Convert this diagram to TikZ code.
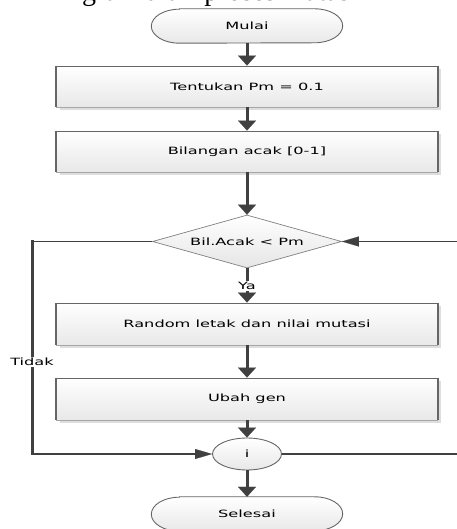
\documentclass[tikz,border=0pt]{standalone}
\usepackage{fontspec}
\newfontfamily\diagfont{DejaVu Sans}[FakeStretch=1.62]
\newfontfamily\capfont{Liberation Serif}
\usetikzlibrary{shapes.geometric, arrows.meta, shadows, backgrounds}

\definecolor{lineclr}{HTML}{404040}
\definecolor{edgeclr}{HTML}{666666}

\tikzset{
  x=1pt, y=1pt,
  txt/.style={font=\diagfont\fontsize{10}{12}\selectfont, text=black},
  procbox/.style={txt, rectangle, minimum width=381pt, minimum height=41pt, inner sep=0pt,
    top color=white, bottom color=black!9, draw=edgeclr, line width=0.9pt,
    drop shadow={opacity=1, fill=black!13, shadow xshift=3pt, shadow yshift=-3pt}},
  termnode/.style={txt, rectangle, minimum width=191pt, minimum height=34pt, inner sep=0pt},
  termshape/.style={top color=white, bottom color=black!9, draw=edgeclr, line width=0.9pt},
  decision/.style={txt, diamond, aspect=3.566, minimum width=189pt, minimum height=53pt, inner sep=0pt,
    top color=white, bottom color=black!10, draw=black!50, line width=0.7pt},
  joint/.style={txt, ellipse, minimum width=69pt, minimum height=32pt, inner sep=0pt,
    top color=white, bottom color=black!9, draw=edgeclr, line width=0.9pt},
  vflow/.style={draw=lineclr, line width=3pt, -{Triangle[width=18pt,length=10pt,line width=0.1pt]}},
  vline/.style={draw=lineclr, line width=3pt, line cap=rect},
  hline/.style={draw=lineclr, line width=1.2pt},
  hflow/.style={draw=lineclr, line width=1.2pt, -{Triangle[width=10pt,length=17pt,line width=0.1pt]}},
  lbl/.style={txt, fill=white, inner sep=1pt},
}

\begin{document}
\begin{tikzpicture}
\useasboundingbox (0,0) rectangle (456,529);

% clipped caption at top
\node[anchor=base west, inner sep=0pt, font=\capfont\fontsize{28}{32}\selectfont] (cap) at (82,528) {gram alur \ proses mutasi};

% nodes
\node[termnode] (start) at (247,503) {Mulai};
\node[procbox] (t1) at (247,442.5) {Tentukan Pm = 0.1};
\node[procbox] (t2) at (247,377.5) {Bilangan acak [0-1]};
\node[decision] (dec) at (247,287.5) {Bil.Acak < Pm};
\node[procbox, minimum height=42pt] (t3) at (247,205) {Random letak dan nilai mutasi};
\node[procbox, minimum height=42pt] (t4) at (247,130) {Ubah gen};
\node[joint] (jn) at (247,75) {i};
\node[termnode] (stop) at (247,15) {Selesai};

% terminal shapes behind their text
\begin{scope}[on background layer]
  \foreach \n in {start,stop}{
    \path[termshape] ([xshift=28pt]\n.north west) -- ([xshift=-28pt]\n.north east)
      arc[start angle=90, end angle=-90, x radius=28pt, y radius=17pt]
      -- ([xshift=28pt]\n.south west)
      arc[start angle=270, end angle=90, x radius=28pt, y radius=17pt] -- cycle;
  }
\end{scope}

% heavier side edges of process boxes
\foreach \n in {t1,t2,t3,t4}{
  \draw[edgeclr, line width=2.4pt] (\n.north west) -- (\n.south west) (\n.north east) -- (\n.south east);
  \draw[black!35, line width=1.5pt] (\n.south west) -- (\n.south east);
}

% main flow
\draw[vflow] (start.south) -- (t1.north);
\draw[vflow] (t1.south) -- (t2.north);
\draw[vflow] (t2.south) -- (dec.north);
\draw[vflow] (dec.south) -- (t3.north);
\node[lbl] (ya) at (247,243) {Ya};
\draw[vflow] (t3.south) -- (t4.north);
\draw[vflow] (t4.south) -- (jn.north);
\draw[vflow] (jn.south) -- (stop.north);

% "Tidak" branch
\coordinate (tl) at (32,287.5);
\coordinate (bl) at (32,75);
\draw[hline] (dec.west) -- (tl);
\draw[vline] (tl) -- (bl);
\draw[hflow] (bl) -- (jn.west);
\node[lbl] (tidak) at (32,167) {Tidak};

% loop back on the right
\coordinate (br) at (470,75);
\coordinate (tr) at (470,287.5);
\draw[hline] (jn.east) -- (br);
\draw[vline] (br) -- (tr);
\draw[hflow] (tr) -- (dec.east);
\end{tikzpicture}
\end{document}
